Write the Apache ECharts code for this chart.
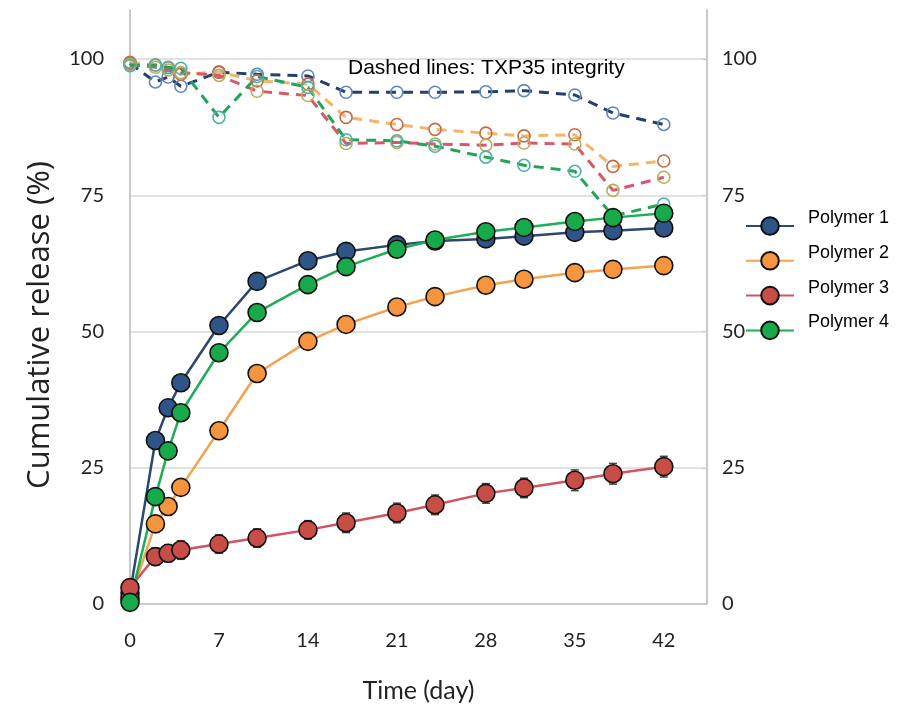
<!DOCTYPE html>
<html lang="en">
<head>
  <meta charset="UTF-8" />
  <title>Cumulative release</title>
  <script src="https://cdn.jsdelivr.net/npm/echarts@6/dist/echarts.min.js"></script>
  <style>
    html, body { margin: 0; padding: 0; background: #fff; }
    #chart { width: 915px; height: 707px; }
  </style>
</head>
<body>
  <div id="chart"></div>
<script type="text/javascript">
  // sampling days
  var days = [0, 2, 3, 4, 7, 10, 14, 17, 21, 24, 28, 31, 35, 38, 42];
  var xTicks = [0, 7, 14, 21, 28, 35, 42];
  var yTicks = [0, 25, 50, 75, 100];

  // cumulative release (%)
  var polymer1 = [2.0, 30.0, 36.0, 40.6, 51.1, 59.2, 63.0, 64.7, 65.9, 66.6, 67.0, 67.5, 68.2, 68.5, 69.0];
  var polymer2 = [1.0, 14.7, 17.9, 21.4, 31.8, 42.3, 48.2, 51.3, 54.5, 56.4, 58.5, 59.6, 60.8, 61.4, 62.1];
  var polymer3 = [3.0, 8.7, 9.3, 9.9, 11.0, 12.1, 13.6, 14.9, 16.7, 18.2, 20.3, 21.3, 22.7, 23.9, 25.2];
  var polymer4 = [0.3, 19.7, 28.1, 35.1, 46.1, 53.5, 58.6, 61.9, 65.1, 66.8, 68.3, 69.1, 70.2, 70.9, 71.7];
  var polymer3Err = [0.0, 1.6, 1.6, 1.7, 1.7, 1.7, 1.7, 1.8, 1.8, 1.8, 1.8, 1.8, 1.9, 1.9, 1.9];

  // TXP35 integrity (%)
  var integrity1 = [99.2, 95.8, 96.7, 95.0, 97.6, 97.2, 96.9, 93.9, 93.9, 93.9, 94.0, 94.2, 93.4, 90.1, 88.0];
  var integrity2 = [99.4, 98.9, 98.4, 97.2, 97.6, 96.0, 95.4, 89.3, 88.0, 87.1, 86.4, 85.9, 86.1, 80.3, 81.3];
  var integrity3 = [99.0, 98.5, 98.0, 97.5, 97.0, 94.1, 93.3, 84.5, 84.7, 84.4, 84.2, 84.6, 84.4, 75.9, 78.3];
  var integrity4 = [98.8, 98.9, 98.5, 98.3, 89.3, 96.8, 94.8, 85.2, 85.0, 84.0, 82.0, 80.5, 79.4, 71.2, 73.4];

  var names = ['Polymer 1', 'Polymer 2', 'Polymer 3', 'Polymer 4'];
  var lineColors = ['#2c4770', '#f4a24e', '#d05561', '#1fae55'];
  var fillColors = ['#2f5487', '#f7953f', '#c94d47', '#16aa4a'];
  var dashColors = ['#23406e', '#f6b468', '#d9576a', '#22a458'];
  var ringColors = ['#6486bd', '#c96a48', '#b8ad62', '#4db3a6'];

  function pairs(ys) {
    return days.map(function (d, i) { return [d, ys[i]]; });
  }

  var release = [polymer1, polymer2, polymer3, polymer4];
  var integrity = [integrity1, integrity2, integrity3, integrity4];

  var series = [];

  // dashed integrity lines underneath
  integrity.forEach(function (ys, i) {
    series.push({
      name: names[i] + ' integrity',
      type: 'line',
      data: pairs(ys),
      symbol: 'circle',
      symbolSize: 12,
      showSymbol: true,
      itemStyle: { color: 'rgba(255,255,255,0)', borderColor: ringColors[i], borderWidth: 1.6 },
      lineStyle: { color: dashColors[i], width: 3, type: [10, 7] },
      emphasis: { disabled: true },
      z: 2
    });
  });

  // error bars for polymer 3
  series.push({
    name: 'err3',
    type: 'custom',
    data: days.map(function (d, i) { return [d, polymer3[i], polymer3Err[i]]; }),
    renderItem: function (params, api) {
      var x = api.value(0), y = api.value(1), e = api.value(2);
      if (!e) return null;
      var top = api.coord([x, y + e]);
      var bot = api.coord([x, y - e]);
      var w = 4;
      var st = { stroke: '#444', lineWidth: 1.5 };
      return {
        type: 'group',
        children: [
          { type: 'line', shape: { x1: top[0], y1: top[1], x2: bot[0], y2: bot[1] }, style: st },
          { type: 'line', shape: { x1: top[0] - w, y1: top[1], x2: top[0] + w, y2: top[1] }, style: st },
          { type: 'line', shape: { x1: bot[0] - w, y1: bot[1], x2: bot[0] + w, y2: bot[1] }, style: st }
        ]
      };
    },
    z: 3
  });

  // solid release lines
  release.forEach(function (ys, i) {
    series.push({
      name: names[i],
      type: 'line',
      data: pairs(ys),
      symbol: 'circle',
      symbolSize: 18,
      itemStyle: { color: fillColors[i], borderColor: '#111', borderWidth: 1.6 },
      lineStyle: { color: lineColors[i], width: 2.5 },
      emphasis: { disabled: true },
      z: 4
    });
  });

  var tickFont = 'Lato, "Open Sans", sans-serif';

  var option = {
    animation: false,
    backgroundColor: '#fff',
    grid: { left: 130, right: 208, top: 10, bottom: 103, outerBoundsMode: 'none' },
    legend: {
      data: names,
      orient: 'vertical',
      left: 740,
      top: 204,
      itemWidth: 48,
      itemHeight: 22,
      itemGap: 8,
      selectedMode: false,
      formatter: function (n) { return '{t|' + n + '}'; },
      textStyle: {
        color: '#000',
        fontFamily: '"Liberation Sans", Arial, sans-serif',
        fontSize: 18,
        rich: {
          t: {
            color: '#000',
            fontFamily: '"Liberation Sans", Arial, sans-serif',
            fontSize: 18,
            padding: [0, 0, 16, 9]
          }
        }
      }
    },
    xAxis: {
      type: 'value',
      min: 0,
      max: 45.4,
      interval: 7,
      name: 'Time (day)',
      nameLocation: 'middle',
      nameGap: 74,
      nameTextStyle: { fontFamily: tickFont, fontSize: 25, color: '#222' },
      axisLine: { show: true, lineStyle: { color: '#c8c8c8', width: 1.5 } },
      axisTick: { show: false },
      splitLine: { show: false },
      axisLabel: {
        margin: 27,
        fontFamily: tickFont,
        fontSize: 20,
        color: '#222',
        showMaxLabel: false,
        formatter: function (v) { return xTicks.indexOf(v) >= 0 ? String(v) : ''; }
      }
    },
    yAxis: [
      {
        type: 'value',
        min: 0,
        max: 109,
        interval: 25,
        position: 'left',
        axisLine: { show: true, lineStyle: { color: '#c8c8c8', width: 2 } },
        axisTick: { show: false },
        splitLine: { show: true, showMaxLine: false, lineStyle: { color: '#d9d9d9', width: 1.5 } },
        axisLabel: {
          margin: 26,
          fontFamily: tickFont,
          fontSize: 20,
          color: '#222',
          showMaxLabel: false,
          formatter: function (v) { return yTicks.indexOf(v) >= 0 ? String(v) : ''; }
        }
      },
      {
        type: 'value',
        min: 0,
        max: 109,
        interval: 25,
        position: 'right',
        axisLine: { show: true, lineStyle: { color: '#c8c8c8', width: 2 } },
        axisTick: { show: true, inside: true, length: 5, lineStyle: { color: '#c8c8c8' } },
        splitLine: { show: false },
        axisLabel: {
          margin: 15,
          fontFamily: tickFont,
          fontSize: 20,
          color: '#222',
          showMaxLabel: false,
          formatter: function (v) { return yTicks.indexOf(v) >= 0 ? String(v) : ''; }
        }
      }
    ],
    graphic: [
      {
        type: 'text',
        left: 348,
        top: 58,
        style: {
          text: 'Dashed lines: TXP35 integrity',
          fill: '#000',
          font: '21px "Liberation Sans", Arial, sans-serif'
        },
        z: 10
      },
      {
        // y axis title, placed a bit below the grid centre as in the original
        type: 'text',
        x: 40,
        y: 325,
        rotation: Math.PI / 2,
        style: {
          text: 'Cumulative release (%)',
          fill: '#222',
          font: '31px "Open Sans", Lato, sans-serif',
          align: 'center',
          verticalAlign: 'middle'
        },
        z: 10
      }
    ],
    series: series
  };

  var myChart = echarts.init(document.getElementById('chart'));
  myChart.setOption(option);
</script>
</body>
</html>
